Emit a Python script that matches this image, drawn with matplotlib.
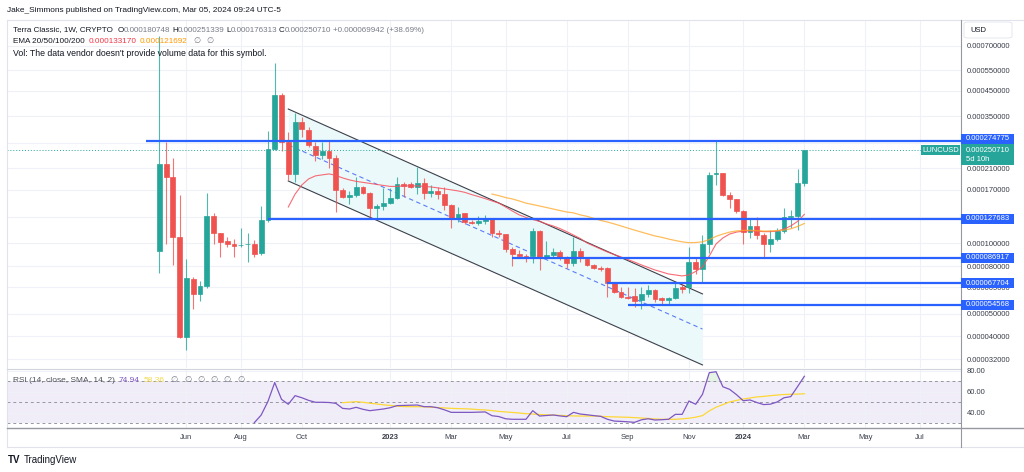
import matplotlib
matplotlib.use('Agg')
import matplotlib.pyplot as plt
import matplotlib.dates as mdates
from matplotlib.lines import Line2D
from matplotlib.patches import Rectangle, FancyBboxPatch
from matplotlib.ticker import FixedLocator, NullLocator
import numpy as np
import pandas as pd

plt.rcParams['font.family'] = ['Liberation Sans', 'DejaVu Sans']

# ---------------- data (weekly LUNCUSD candles, prices in USD) ----------------
first_bar = '2022-05-09'
opens = [9.28e-5, 21.9e-5, 19.27e-5, 10.65e-5, 3.98e-5, 7.05e-5, 6.08e-5, 6.57e-5, 13.12e-5, 11.08e-5,
         10.24e-5, 9.95e-5, 9.80e-5, 9.93e-5, 9.95e-5, 9.10e-5, 12.6e-5, 25.35e-5, 43.2e-5, 27.26e-5,
         19.84e-5, 33.14e-5, 30.6e-5, 26.14e-5, 23.9e-5, 24.85e-5, 23.25e-5, 16.95e-5, 15.79e-5, 16.1e-5,
         17.45e-5, 16.42e-5, 14.18e-5, 14.46e-5, 14.88e-5, 15.63e-5, 17.98e-5, 17.98e-5, 17.45e-5, 18.16e-5,
         16.42e-5, 16.78e-5, 16.26e-5, 14.6e-5, 12.85e-5, 13.51e-5, 12.35e-5, 12.23e-5, 12.48e-5, 12.72e-5,
         11.08e-5, 10.97e-5, 9.46e-5, 9.01e-5, 8.83e-5, 8.83e-5, 11.29e-5, 8.75e-5, 8.92e-5, 9.19e-5,
         8.75e-5, 8.24e-5, 9.28e-5, 8.57e-5, 8.09e-5, 7.85e-5, 7.85e-5, 6.77e-5, 6.20e-5, 5.90e-5,
         5.96e-5, 5.73e-5, 6.08e-5, 6.32e-5, 5.84e-5, 5.73e-5, 5.84e-5, 6.51e-5, 6.51e-5, 8.32e-5,
         7.78e-5, 9.95e-5, 19.75e-5, 20.0e-5, 16.1e-5, 15.5e-5, 13.76e-5, 11.18e-5, 11.88e-5, 10.86e-5,
         9.95e-5, 10.44e-5, 11.29e-5, 12.99e-5, 13.12e-5, 18.0748e-5]
highs = [77.3e-5, 27.26e-5, 23.25e-5, 16.1e-5, 8.57e-5, 7.19e-5, 6.91e-5, 16.42e-5, 13.51e-5, 11.08e-5,
         10.65e-5, 10.44e-5, 11.63e-5, 11.08e-5, 10.34e-5, 14.46e-5, 30.3e-5, 59.25e-5, 44.06e-5, 30.0e-5,
         36.2e-5, 34.8e-5, 31.57e-5, 27.26e-5, 27.26e-5, 27.5e-5, 23.9e-5, 17.29e-5, 16.78e-5, 19.27e-5,
         17.63e-5, 16.6e-5, 14.74e-5, 17.29e-5, 17.29e-5, 19.27e-5, 18.34e-5, 18.34e-5, 21.22e-5, 19.07e-5,
         17.8e-5, 17.45e-5, 17.45e-5, 14.74e-5, 14.32e-5, 13.51e-5, 12.6e-5, 13.12e-5, 13.25e-5, 12.85e-5,
         11.4e-5, 10.97e-5, 9.66e-5, 9.37e-5, 9.01e-5, 11.63e-5, 11.4e-5, 10.24e-5, 9.56e-5, 9.37e-5,
         8.83e-5, 10.65e-5, 9.56e-5, 8.66e-5, 8.17e-5, 8.01e-5, 7.93e-5, 6.84e-5, 6.51e-5, 6.51e-5,
         6.45e-5, 6.51e-5, 6.64e-5, 6.38e-5, 5.90e-5, 5.90e-5, 6.77e-5, 6.77e-5, 9.66e-5, 8.66e-5,
         10.86e-5, 20.2e-5, 27.4775e-5, 20.0e-5, 16.6e-5, 15.5e-5, 13.9e-5, 12.72e-5, 12.99e-5, 11.08e-5,
         11.4e-5, 11.63e-5, 14.18e-5, 13.9e-5, 20.8e-5, 25.1339e-5]
lows = [7.48e-5, 9.95e-5, 8.09e-5, 3.95e-5, 3.50e-5, 5.24e-5, 5.67e-5, 6.45e-5, 9.95e-5, 8.75e-5,
        9.66e-5, 8.75e-5, 9.66e-5, 8.32e-5, 8.75e-5, 8.92e-5, 12.35e-5, 25.1e-5, 24.85e-5, 18.7e-5,
        18.34e-5, 28.63e-5, 25.9e-5, 22.58e-5, 23.0e-5, 21.0e-5, 13.63e-5, 15.63e-5, 14.74e-5, 15.79e-5,
        16.34e-5, 12.99e-5, 12.72e-5, 13.9e-5, 14.8e-5, 15.5e-5, 15.79e-5, 17.29e-5, 16.26e-5, 15.5e-5,
        15.79e-5, 15.5e-5, 13.9e-5, 11.63e-5, 12.35e-5, 12.1e-5, 12.1e-5, 12.0e-5, 12.1e-5, 10.65e-5,
        10.65e-5, 9.19e-5, 8.01e-5, 8.66e-5, 8.32e-5, 8.24e-5, 7.70e-5, 8.66e-5, 8.75e-5, 8.49e-5,
        7.85e-5, 8.01e-5, 8.32e-5, 8.01e-5, 7.78e-5, 7.62e-5, 5.90e-5, 6.14e-5, 5.84e-5, 5.81e-5,
        5.35e-5, 5.24e-5, 5.90e-5, 5.62e-5, 5.46e-5, 5.46e-5, 5.79e-5, 6.14e-5, 6.14e-5, 7.40e-5,
        6.84e-5, 9.10e-5, 17.8e-5, 15.95e-5, 14.18e-5, 13.51e-5, 9.95e-5, 10.55e-5, 10.44e-5, 8.75e-5,
        9.19e-5, 10.24e-5, 11.08e-5, 11.63e-5, 11.4e-5, 17.6313e-5]
closes = [21.9e-5, 19.27e-5, 10.65e-5, 3.98e-5, 7.12e-5, 6.08e-5, 6.57e-5, 13.12e-5, 11.08e-5, 10.14e-5,
          9.95e-5, 9.75e-5, 9.85e-5, 9.97e-5, 9.01e-5, 12.6e-5, 25.35e-5, 43.2e-5, 27.26e-5, 19.84e-5,
          33.14e-5, 30.9e-5, 26.4e-5, 23.9e-5, 24.85e-5, 23.25e-5, 16.95e-5, 15.79e-5, 16.1e-5, 17.45e-5,
          16.42e-5, 14.18e-5, 14.46e-5, 14.88e-5, 15.63e-5, 17.98e-5, 17.62e-5, 17.45e-5, 18.16e-5, 16.42e-5,
          16.78e-5, 16.26e-5, 14.6e-5, 12.85e-5, 13.38e-5, 12.35e-5, 12.23e-5, 12.48e-5, 12.72e-5, 11.08e-5,
          10.97e-5, 9.46e-5, 9.01e-5, 8.83e-5, 8.75e-5, 11.29e-5, 8.75e-5, 8.92e-5, 9.19e-5, 8.75e-5,
          8.24e-5, 9.28e-5, 8.66e-5, 8.09e-5, 7.85e-5, 7.78e-5, 6.77e-5, 6.20e-5, 5.90e-5, 5.84e-5,
          5.67e-5, 6.08e-5, 6.32e-5, 5.79e-5, 5.73e-5, 5.84e-5, 6.45e-5, 6.38e-5, 8.32e-5, 7.78e-5,
          9.95e-5, 19.65e-5, 20.0e-5, 16.1e-5, 15.5e-5, 13.76e-5, 11.18e-5, 11.88e-5, 10.86e-5, 9.95e-5,
          10.44e-5, 11.29e-5, 12.99e-5, 13.06e-5, 18.0748e-5, 25.071e-5]

# EMA 20 (from bar 19) and EMA 50 (from bar 49)
ema20_start = 19
ema20 = [14.32e-5, 16.26e-5, 17.8e-5, 18.89e-5, 19.46e-5, 19.65e-5, 19.84e-5, 19.55e-5, 19.07e-5, 18.7e-5,
         18.43e-5, 18.25e-5, 18.07e-5, 17.89e-5, 17.71e-5, 17.54e-5, 17.54e-5, 17.63e-5, 17.63e-5, 17.63e-5,
         17.54e-5, 17.45e-5, 17.29e-5, 17.12e-5, 16.95e-5, 16.78e-5, 16.54e-5, 16.18e-5, 15.87e-5, 15.55e-5,
         15.2e-5, 14.88e-5, 14.32e-5, 13.76e-5, 13.25e-5, 12.92e-5, 12.66e-5, 12.42e-5, 12.12e-5, 11.88e-5,
         11.58e-5, 11.23e-5, 10.86e-5, 10.5e-5, 10.04e-5, 9.75e-5, 9.46e-5, 9.19e-5, 8.96e-5, 8.75e-5,
         8.53e-5, 8.32e-5, 8.09e-5, 7.89e-5, 7.70e-5, 7.55e-5, 7.40e-5, 7.33e-5, 7.26e-5, 7.33e-5,
         7.59e-5, 7.93e-5, 8.83e-5, 9.95e-5, 10.55e-5, 10.97e-5, 11.18e-5, 11.29e-5, 11.32e-5, 11.29e-5,
         11.23e-5, 11.23e-5, 11.29e-5, 11.52e-5, 11.88e-5, 12.42e-5, 13.317e-5]
ema50_start = 49
ema50 = [16.26e-5, 16.02e-5, 15.71e-5, 15.5e-5, 15.2e-5, 14.88e-5, 14.67e-5, 14.46e-5, 14.25e-5, 14.04e-5,
         13.83e-5, 13.63e-5, 13.51e-5, 13.25e-5, 13.06e-5, 12.79e-5, 12.54e-5, 12.35e-5, 12.12e-5, 11.88e-5,
         11.63e-5, 11.4e-5, 11.18e-5, 10.97e-5, 10.76e-5, 10.62e-5, 10.44e-5, 10.29e-5, 10.16e-5, 10.07e-5,
         10.09e-5, 10.16e-5, 10.39e-5, 10.72e-5, 10.97e-5, 11.18e-5, 11.31e-5, 11.37e-5, 11.38e-5, 11.34e-5,
         11.29e-5, 11.31e-5, 11.35e-5, 11.4e-5, 11.55e-5, 11.82e-5, 12.169e-5]

# RSI(14) from bar 14 and its SMA(14) from bar 27
rsi_start = 14
rsi = [30.8, 38, 51, 69, 53, 48.3, 56.5, 54.5, 52, 50.2, 50.2, 50, 49.2, 44.4, 43.8, 45.4, 43.5, 42.2,
       43, 43.8, 45, 47, 47.2, 47.4, 47.6, 46, 46, 45, 43, 40.6, 40.6, 40.6, 40.6, 40.8, 41, 37.4, 36.6,
       34.5, 34, 34, 34, 42.2, 37.1, 37.6, 38.1, 37.2, 36.5, 40.6, 39, 38.3, 37.5, 36.8, 34, 32.3, 32,
       31.6, 31.1, 33.5, 34.5, 33.3, 33.6, 34, 38.7, 38.7, 51.4, 48.3, 57.8, 78.4, 79.3, 65, 62.5, 57.5,
       51.7, 52.4, 50, 48, 48.4, 50.5, 54.5, 55.6, 65.1, 74.94]
rsi_sma_start = 27
rsi_sma = [49.8, 50.3, 50.8, 50.2, 49.3, 48.6, 47.8, 47.2, 46.5, 46.1, 46, 46, 45.9, 45.5, 45.2, 44.8,
           44.4, 44.2, 44, 43.7, 43.2, 42.9, 42.3, 41.5, 41, 40.5, 40, 39.3, 39, 38.6, 38.2, 38, 37.7,
           37.4, 37.2, 37.1, 37.1, 37.1, 36.8, 36.5, 36.3, 36.1, 35.9, 35.6, 35.2, 34.8, 34.3, 34, 34, 34,
           34.4, 35, 36, 37.5, 42, 45.5, 48, 50.5, 52, 53.3, 54.3, 55.3, 55.8, 56.5, 57.1, 57.6, 57.8, 58,
           58.36]

# horizontal levels (price, start date)
level_prices = [0.000274775, 0.000127683, 0.000086917, 0.000067704, 0.000054568]
level_starts = ['2022-04-25', '2022-08-29', '2023-05-08', '2023-08-14', '2023-09-04']
last_price = 0.000250710

# descending parallel channel (two anchor dates)
channel_dates = ['2022-09-19', '2023-11-20']
channel_upper = [3.76e-4, 6.08e-5]
channel_mid = [2.64e-4, 4.30e-5]
channel_lower = [1.85e-4, 3.02e-5]

# axis labels (labelled ticks plus grid-only levels hidden behind the level boxes)
price_ticks = [7e-4, 5.5e-4, 4.5e-4, 3.5e-4, 2.1e-4, 1.7e-4, 1.0e-4, 8e-5, 6.5e-5, 5e-5, 4e-5, 3.2e-5]
grid_only_prices = [2.7e-4, 1.3e-4]
month_tick_dates = ['2022-06-06', '2022-08-01', '2022-10-03', '2023-01-02', '2023-03-06', '2023-05-01',
                    '2023-07-03', '2023-09-04', '2023-11-06', '2024-01-01', '2024-03-04', '2024-05-06',
                    '2024-07-01']
month_tick_labels = ['Jun', 'Aug', 'Oct', '2023', 'Mar', 'May', 'Jul', 'Sep', 'Nov', '2024', 'Mar', 'May', 'Jul']

# ---------------- style ----------------
GREEN = '#26a69a'
RED = '#ef5350'
BLUE = '#2962ff'
TXT = '#131722'
GREY = '#787b86'
AXTXT = '#3a3e4a'
GRID = '#eef1f7'

W, H = 1024, 472
fig = plt.figure(figsize=(W / 100, H / 100), dpi=100)
fig.patch.set_facecolor('white')


def fx(x):
    return x / W


def fy(y):
    return 1 - y / H


ax = fig.add_axes([fx(7), fy(368), fx(961) - fx(7), fy(20) - fy(368)])
axr = fig.add_axes([fx(7), fy(428), fx(961) - fx(7), fy(369) - fy(428)], sharex=ax)

bar_x = mdates.date2num(pd.date_range(first_bar, periods=len(opens), freq='W-MON'))
base = mdates.date2num(pd.Timestamp(first_bar))
xmin, xmax = base - 157.0, base + 826.5

o = np.array(opens)
c = np.array(closes)
hi = np.array(highs)
lo = np.array(lows)
up = c >= o
cols = np.where(up, GREEN, RED)

ax.set_yscale('log')
ax.set_xlim(xmin, xmax)
ax.set_ylim(2.93e-5, 9.04e-4)

# channel
chx = mdates.date2num(pd.to_datetime(channel_dates))
ax.fill_between(chx, channel_lower, channel_upper, color='#ebf9fa', lw=0, zorder=1)
ax.plot(chx, channel_upper, color='#3c404b', lw=0.8, zorder=2)
ax.plot(chx, channel_lower, color='#3c404b', lw=0.8, zorder=2)
ax.plot(chx, channel_mid, color='#5b7cf7', lw=0.8, ls=(0, (4, 3)), zorder=2)

# candles
ax.vlines(bar_x, lo, hi, colors=cols, lw=0.8, alpha=0.8, zorder=3)
ax.bar(bar_x, np.abs(c - o), bottom=np.minimum(o, c), width=5.0, color=cols,
       edgecolor=cols, linewidth=0.5, zorder=4)

# EMAs
ax.plot(bar_x[ema20_start:ema20_start + len(ema20)], ema20, color='#f7525f', lw=0.8, alpha=0.85, zorder=5)
ax.plot(bar_x[ema50_start:ema50_start + len(ema50)], ema50, color='#ffa726', lw=0.9, alpha=0.75, zorder=5)

# levels
for p, s in zip(level_prices, level_starts):
    ax.hlines(p, mdates.date2num(pd.Timestamp(s)), xmax, color=BLUE, lw=1.6, zorder=6)
ax.axhline(last_price, color=GREEN, lw=0.7, ls=(0, (1, 2)), zorder=5)
for g in grid_only_prices:
    ax.axhline(g, color=GRID, lw=0.8, zorder=0)

# axes styling
ax.yaxis.set_major_locator(FixedLocator(price_ticks))
ax.yaxis.set_minor_locator(NullLocator())
ax.yaxis.tick_right()
ax.set_yticklabels([f'{v:.9f}' for v in price_ticks])
ax.tick_params(axis='y', length=0, pad=4, labelsize=5.5, labelcolor=AXTXT)
ax.tick_params(axis='x', length=0, labelbottom=False)
ax.xaxis.set_major_locator(FixedLocator(mdates.date2num(pd.to_datetime(month_tick_dates))))
ax.xaxis.set_minor_locator(NullLocator())
ax.grid(True, color=GRID, lw=0.8, zorder=0)
ax.set_axisbelow(True)
for sp in ax.spines.values():
    sp.set_visible(False)

# RSI pane
rx = bar_x[rsi_start:rsi_start + len(rsi)]
sx = bar_x[rsi_sma_start:rsi_sma_start + len(rsi_sma)]
axr.set_ylim(25.7, 81.9)
axr.axhspan(30, 70, color='#7e57c2', alpha=0.1, lw=0, zorder=0)
for lvl in (70, 50, 30):
    axr.axhline(lvl, color='#9598a1', lw=0.7, ls=(0, (3, 3)), zorder=1)
ra = np.array(rsi)
axr.fill_between(rx, 70, ra, where=ra > 70, interpolate=True, color='#4caf50', alpha=0.15, lw=0, zorder=1)
axr.plot(rx, rsi, color='#7e57c2', lw=0.9, zorder=3)
axr.plot(sx, rsi_sma, color='#fdd835', lw=0.9, zorder=2)
axr.yaxis.set_major_locator(FixedLocator([80, 60, 40]))
axr.yaxis.set_minor_locator(NullLocator())
axr.yaxis.tick_right()
axr.set_yticklabels(['80.00', '60.00', '40.00'])
axr.tick_params(axis='y', length=0, pad=4, labelsize=5.5, labelcolor=AXTXT)
axr.tick_params(axis='x', length=0, pad=4.5, labelsize=5.5, labelcolor=AXTXT)
axr.set_xticks(mdates.date2num(pd.to_datetime(month_tick_dates)))
axr.set_xticklabels(month_tick_labels)
for lab in axr.get_xticklabels():
    if lab.get_text().isdigit():
        lab.set_fontweight('bold')
axr.grid(True, color=GRID, lw=0.8, zorder=0)
axr.set_axisbelow(True)
for sp in axr.spines.values():
    sp.set_visible(False)
ax.set_xlim(xmin, xmax)

# frame lines
def fline(x0, y0, x1, y1, color, lw):
    fig.add_artist(Line2D([fx(x0), fx(x1)], [fy(y0), fy(y1)], transform=fig.transFigure,
                          color=color, lw=lw, zorder=2))

fline(7, 20, 1024, 20, '#e0e3eb', 0.8)
fline(7, 20, 7, 447, '#e0e3eb', 0.8)
fline(7, 447, 1024, 447, '#e0e3eb', 0.8)
fline(7, 368.5, 961, 368.5, '#d1d4dc', 0.8)
fline(7, 428, 1024, 428, '#9598a1', 1.0)
fline(961, 20, 961, 447, '#9598a1', 0.8)

fig.canvas.draw()
renderer = fig.canvas.get_renderer()


def chain(x, y, parts, size):
    for s, col, gap, weight in parts:
        t = fig.text(fx(x), fy(y), s, color=col, fontsize=size, ha='left', va='center',
                     fontweight=weight, zorder=5)
        bb = t.get_window_extent(renderer=renderer)
        x += bb.width + gap


fig.text(fx(7), fy(11), 'Jake_Simmons published on TradingView.com, Mar 05, 2024 09:24 UTC-5',
         color=TXT, fontsize=5.95, ha='left', va='center')
chain(13, 30, [('Terra Classic, 1W, CRYPTO', TXT, 5, 'normal'),
               ('O', TXT, 0, 'normal'), ('0.000180748', GREY, 1.5, 'normal'),
               ('H', TXT, 0, 'normal'), ('0.000251339', GREY, 1.5, 'normal'),
               ('L', TXT, 0, 'normal'), ('0.000176313', GREY, 1.5, 'normal'),
               ('C', TXT, 0, 'normal'), ('0.000250710', GREY, 2, 'normal'),
               ('+0.000069942 (+38.69%)', GREY, 0, 'normal')], 5.8)
chain(13, 41.5, [('EMA 20/50/100/200', TXT, 4, 'normal'),
                 ('0.000133170', '#f23645', 3, 'normal'),
                 ('0.000121692', '#ff9800', 6, 'normal'),
                 ('\u2205', GREY, 6, 'normal'), ('\u2205', GREY, 0, 'normal')], 5.9)
fig.text(fx(13), fy(53), "Vol: The data vendor doesn't provide volume data for this symbol.",
         color=TXT, fontsize=6.3, ha='left', va='center')
chain(13, 380, [('RSI (14, close, SMA, 14, 2)', '#50535e', 4, 'normal'),
                ('74.94', '#7e57c2', 4, 'normal'),
                ('58.36', '#f2d94a', 6, 'normal')] +
      [('\u2205', GREY, 6, 'normal')] * 6, 6.0)

# right price-axis boxes
def yfig(val):
    disp = ax.transData.transform((xmin, val))
    return fig.transFigure.inverted().transform(disp)[1]


label_shift = [2.0, 0, 0, 0, 0]   # pixels up, to keep labels apart
for p, sh in zip(level_prices, label_shift):
    yc = yfig(p) + sh / H
    fig.patches.append(Rectangle((fx(961), yc - 5.0 / H), fx(1014) - fx(961), 10.0 / H,
                                 transform=fig.transFigure, facecolor=BLUE, edgecolor='none', zorder=3))
    fig.text(fx(966), yc, f'{p:.9f}', color='white', fontsize=5.5, ha='left', va='center', zorder=4)

yc = yfig(last_price)
fig.patches.append(Rectangle((fx(961), yc - 14.5 / H), fx(1014) - fx(961), 20.5 / H,
                             transform=fig.transFigure, facecolor=GREEN, edgecolor='none', zorder=3))
fig.text(fx(966), yc - 0.5 / H, f'{last_price:.9f}', color='white', fontsize=5.5, ha='left', va='center', zorder=4)
fig.text(fx(966), yc - 9.5 / H, '5d 10h', color='white', fontsize=5.5, ha='left', va='center', zorder=4)
fig.patches.append(Rectangle((fx(921), yc - 5.2 / H), fx(960) - fx(921), 10.4 / H,
                             transform=fig.transFigure, facecolor=GREEN, edgecolor='none', zorder=3))
fig.text(fx(940.5), yc, 'LUNCUSD', color='white', fontsize=5.5, ha='center', va='center', zorder=4)

# USD box
fig.patches.append(FancyBboxPatch((fx(964), fy(38)), fx(1012) - fx(964), 16 / H,
                                  boxstyle='round,pad=0,rounding_size=0.004', transform=fig.transFigure,
                                  facecolor='white', edgecolor='#e0e3eb', lw=0.6, zorder=3))
fig.text(fx(970), fy(30), 'USD', color=TXT, fontsize=5.5, ha='left', va='center', zorder=4)

# TradingView logo
fig.text(fx(8), fy(460), 'TV', color=TXT, fontsize=7, fontweight='heavy', ha='left', va='center')
fig.text(fx(24), fy(460), 'TradingView', color=TXT, fontsize=7, ha='left', va='center')

fig.savefig('out.png', dpi=100, facecolor='white')
